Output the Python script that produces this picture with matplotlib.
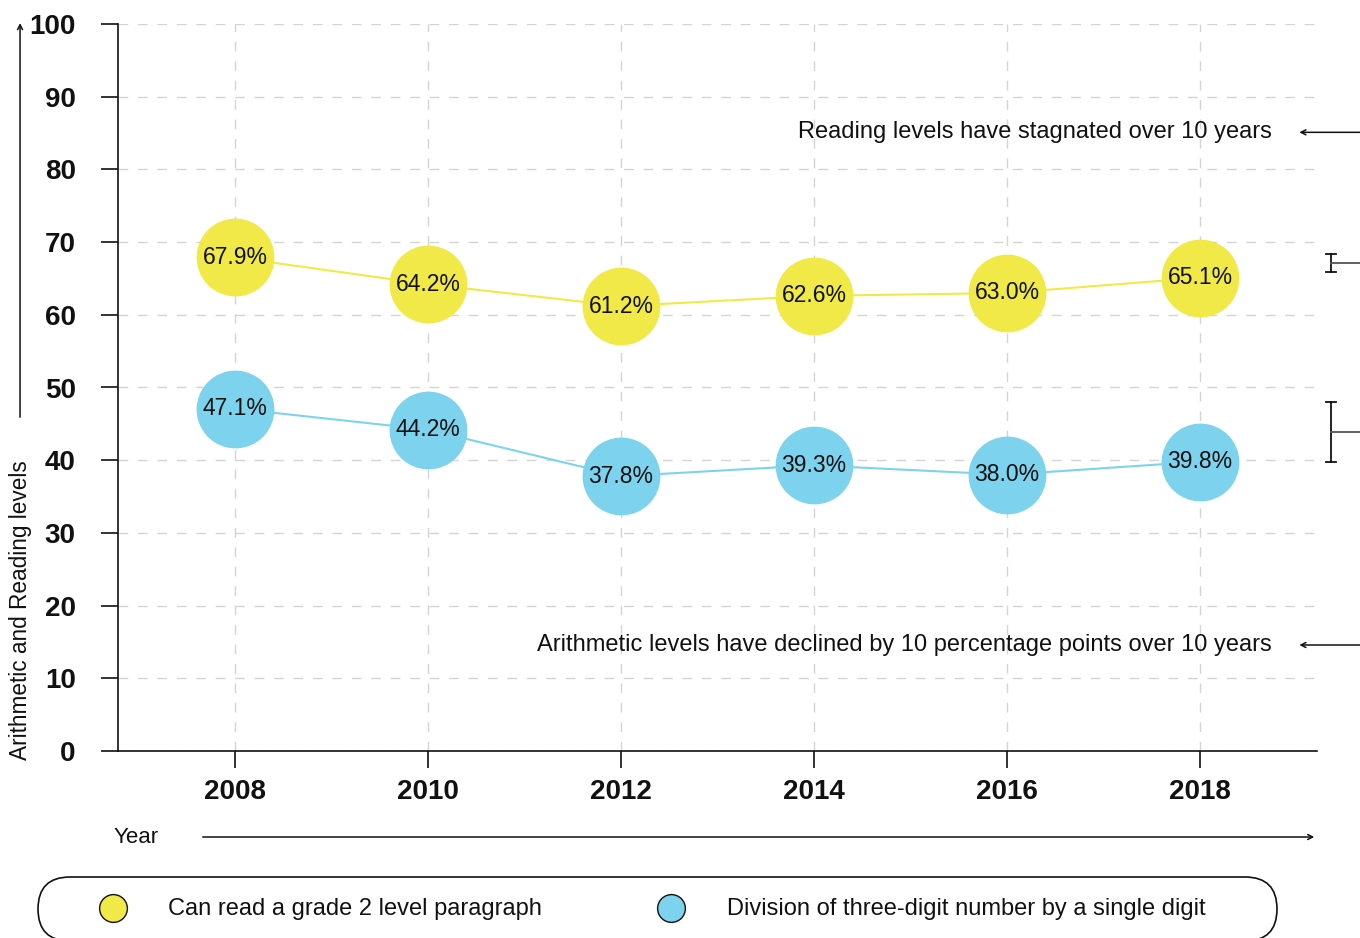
"""Reading and arithmetic levels, 2008-2018."""

import matplotlib
matplotlib.use('Agg')
import matplotlib.pyplot as plt
from matplotlib.patches import FancyBboxPatch
from matplotlib.lines import Line2D

plt.rcParams['font.family'] = ['Liberation Sans', 'DejaVu Sans']

YEARS = [2008, 2010, 2012, 2014, 2016, 2018]
READING = [67.9, 64.2, 61.2, 62.6, 63.0, 65.1]
ARITHMETIC = [47.1, 44.2, 37.8, 39.3, 38.0, 39.8]
Y_TICKS = [0, 10, 20, 30, 40, 50, 60, 70, 80, 90, 100]

# bracket spans on the right edge
READING_SPAN = [68.3, 65.9]
ARITHMETIC_SPAN = [48.0, 39.7]

READING_LABEL = 'Can read a grade 2 level paragraph'
ARITHMETIC_LABEL = 'Division of three-digit number by a single digit'
READING_NOTE = 'Reading levels have stagnated over 10 years'
ARITHMETIC_NOTE = 'Arithmetic levels have declined by 10 percentage points over 10 years'

YELLOW = '#f0e948'
BLUE = '#7dd3ee'
GRID = '#d4d4d4'
INK = '#111111'


def draw_series(ax, values, color):
    ax.plot(YEARS, values, color = color, lw = 1.5, zorder = 3)
    ax.plot(YEARS, values, linestyle = 'none', marker = 'o', markersize = 56,
            markerfacecolor = color, markeredgewidth = 0, zorder = 4)
    for year, value in zip(YEARS, values):
        ax.text(year, value, f'{value:.1f}%', ha = 'center', va = 'center',
                fontsize = 16.5, color = INK, zorder = 5)


def draw_bracket(ax, span, cap = 0.0038, x = 1.0117, tail = 1.04):
    trans = ax.get_yaxis_transform()
    lo, hi = min(span), max(span)
    kw = dict(color = INK, lw = 1.3, transform = trans, clip_on = False)
    ax.plot([x, x], [lo, hi], **kw)
    ax.plot([x - cap, x + cap], [lo, lo], **kw)
    ax.plot([x - cap, x + cap], [hi, hi], **kw)
    ax.plot([x, tail], [(lo + hi) / 2] * 2, color = '#555555', lw = 1.3,
            transform = trans, clip_on = False)


def main():
    fig = plt.figure(figsize = (13.6, 9.38), dpi = 100)
    ax = fig.add_axes([118 / 1360, 1 - 751 / 938, 1199 / 1360, 727 / 938])
    ax.set_facecolor('none')

    ax.set_xlim(2008 - 1.212, 2018 + 1.212)
    ax.set_ylim(0, 100)
    ax.set_xticks(YEARS)
    ax.set_yticks(Y_TICKS)
    ax.tick_params(axis = 'both', length = 12.5, width = 1.2, color = INK)
    ax.tick_params(axis = 'y', pad = 18)
    ax.tick_params(axis = 'x', pad = 8)
    for label in ax.get_xticklabels() + ax.get_yticklabels():
        label.set_fontweight('bold')
        label.set_fontsize(20)
        label.set_color(INK)

    for side in ('top', 'right'):
        ax.spines[side].set_visible(False)
    for side in ('left', 'bottom'):
        ax.spines[side].set_linewidth(1.2)
        ax.spines[side].set_color(INK)

    ax.grid(True, color = GRID, lw = 1, linestyle = (0, (7, 7)), zorder = 0)
    ax.set_axisbelow(True)

    draw_series(ax, READING, YELLOW)
    draw_series(ax, ARITHMETIC, BLUE)

    # right-hand notes
    arrow = dict(arrowstyle = '->, head_length=0.35, head_width=0.18', lw = 1.1, color = INK)
    for note, y in ((READING_NOTE, 0.851), (ARITHMETIC_NOTE, 0.1458)):
        ax.text(0.9625, y, note, transform = ax.transAxes, ha = 'right', va = 'center',
                fontsize = 17, color = INK)
        ax.annotate('', xy = (0.983, y), xytext = (1.04, y), xycoords = 'axes fraction',
                    arrowprops = arrow, annotation_clip = False)

    draw_bracket(ax, READING_SPAN)
    draw_bracket(ax, ARITHMETIC_SPAN)

    # axis titles with arrows
    ax.text(-0.0817, 0.194, 'Arithmetic and Reading levels', transform = ax.transAxes,
            rotation = 90, ha = 'center', va = 'center', fontsize = 16.3, color = INK)
    ax.annotate('', xy = (-0.0817, 1.005), xytext = (-0.0817, 0.4553), xycoords = 'axes fraction',
                arrowprops = arrow, annotation_clip = False)
    ax.text(-0.004, -0.1183, 'Year', transform = ax.transAxes, ha = 'left', va = 'center',
            fontsize = 16, color = INK)
    ax.annotate('', xy = (1.0, -0.1183), xytext = (0.0684, -0.1183), xycoords = 'axes fraction',
                arrowprops = arrow, annotation_clip = False)

    # legend pill drawn in pixel space
    over = fig.add_axes([0, 0, 1, 1], zorder = -1)
    over.set_xlim(0, 1360)
    over.set_ylim(938, 0)
    over.axis('off')
    over.add_patch(FancyBboxPatch((38, 877), 1239, 64,
                                  boxstyle = 'round,pad=0,rounding_size=32',
                                  facecolor = 'white', edgecolor = INK, lw = 1.2,
                                  clip_on = False))
    for x_marker, x_text, color, label in ((113, 168, YELLOW, READING_LABEL),
                                           (671, 727, BLUE, ARITHMETIC_LABEL)):
        over.add_line(Line2D([x_marker], [908], marker = 'o', markersize = 20,
                             markerfacecolor = color, markeredgecolor = INK,
                             markeredgewidth = 1.0))
        over.text(x_text, 909, label, ha = 'left', va = 'center', fontsize = 17, color = INK)

    fig.savefig('out.png', dpi = 100, facecolor = 'white')
    plt.close(fig)


if __name__ == '__main__':
    main()
